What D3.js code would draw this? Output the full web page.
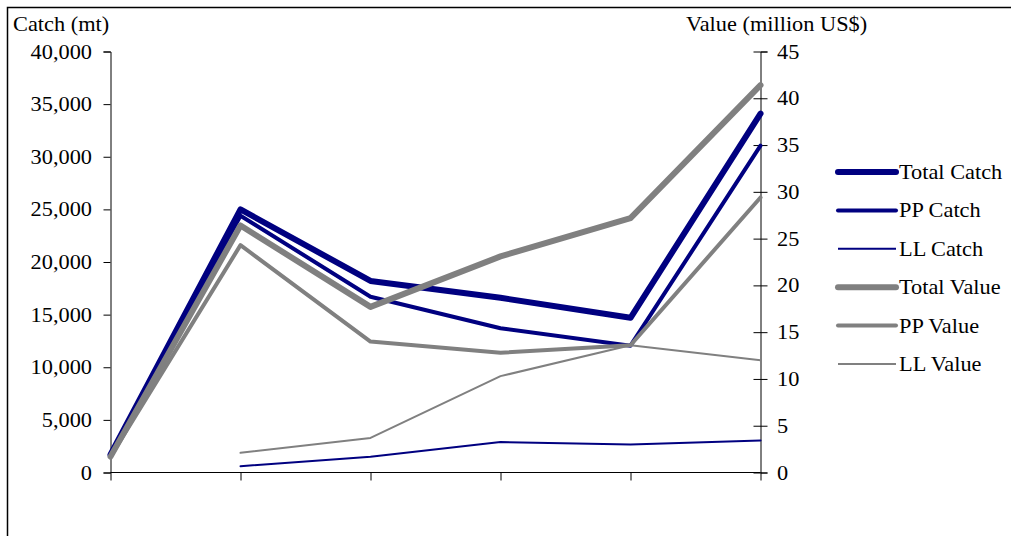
<!DOCTYPE html>
<html>
<head>
<meta charset="utf-8">
<script src="https://cdn.jsdelivr.net/npm/d3@7"></script>
<style>
  html, body { margin: 0; padding: 0; background: #fff; }
  svg { display: block; }
  text { font-family: "Liberation Serif", "Times New Roman", serif; fill: #000; }
</style>
</head>
<body>
<svg id="chart" width="1011" height="536"></svg>
<script>
// ---- data ----
const categories = [0, 1, 2, 3, 4, 5];
const totalCatch = [1700, 25000, 18200, 16600, 14700, 34100];
const ppCatch    = [1700, 24400, 16700, 13700, 12050, 31050];
const llCatch    = [null, 600, 1500, 2900, 2650, 3050];
const totalValue = [1.7, 26.4, 17.7, 23.1, 27.2, 41.4];
const ppValue    = [1.7, 24.3, 14.0, 12.8, 13.6, 29.4];
const llValue    = [null, 2.1, 3.7, 10.3, 13.6, 12.0];
const leftTicks  = [0, 5000, 10000, 15000, 20000, 25000, 30000, 35000, 40000];
const rightTicks = [0, 5, 10, 15, 20, 25, 30, 35, 40, 45];
const leftTitle  = "Catch (mt)";
const rightTitle = "Value (million US$)";

const seriesNames  = ["Total Catch", "PP Catch", "LL Catch", "Total Value", "PP Value", "LL Value"];
const seriesData   = [totalCatch, ppCatch, llCatch, totalValue, ppValue, llValue];
const seriesAxis   = ["L", "L", "L", "R", "R", "R"];
const seriesColor  = ["#000080", "#000080", "#000080", "#808080", "#808080", "#808080"];
const seriesWidth  = [6, 4, 2, 6, 4, 2];

// ---- layout ----
const FS = 20.5, SX = 1.09;
const svg = d3.select("#chart");
svg.append("rect").attr("x", 0).attr("y", 0).attr("width", 1011).attr("height", 536).attr("fill", "#fff");
svg.append("rect").attr("x", 7.5).attr("y", 7.5).attr("width", 1100).attr("height", 700)
  .attr("fill", "none").attr("stroke", "#000").attr("stroke-width", 1.5);

const x = d3.scalePoint().domain(categories).range([110.5, 760.5]);
const yL = d3.scaleLinear().domain([0, 40000]).range([472.5, 51.5]);
const yR = d3.scaleLinear().domain([0, 45]).range([472.5, 51.5]);

function stretchText(sel, xPos) {
  sel.attr("font-size", FS).attr("transform", `scale(${SX},1)`).attr("x", xPos / SX);
}

// left axis
const gL = svg.append("g").attr("transform", "translate(110.5,0)")
  .call(d3.axisLeft(yL).tickValues(leftTicks).tickSize(7).tickPadding(12).tickFormat(d3.format(",")));
gL.select(".domain").attr("stroke", "#000");
gL.selectAll(".tick line").attr("stroke", "#000");
gL.selectAll(".tick text").attr("font-family", null).call(stretchText, -18.5);

// right axis
const gR = svg.append("g").attr("transform", "translate(760.5,0)")
  .call(d3.axisRight(yR).tickValues(rightTicks).tickSize(7).tickPadding(12));
gR.select(".domain").attr("stroke", "#000");
gR.selectAll(".tick line").attr("stroke", "#000").attr("x1", -7).attr("x2", 7);
gR.selectAll(".tick text").attr("font-family", null).call(stretchText, 16.5);

// x axis
const gX = svg.append("g").attr("transform", "translate(0,472.5)")
  .call(d3.axisBottom(x).tickSize(8).tickFormat(() => ""));
gX.select(".domain").attr("stroke", "#000").attr("d", `M110.5,0H760.5`);
gX.selectAll(".tick line").attr("stroke", "#000");

// titles
svg.append("text").text(leftTitle).attr("y", 31).call(stretchText, 13);
svg.append("text").text(rightTitle).attr("y", 31).call(stretchText, 686);

// lines
seriesData.forEach((vals, i) => {
  const ys = seriesAxis[i] === "L" ? yL : yR;
  const line = d3.line()
    .defined(d => d != null)
    .x((d, j) => x(categories[j]))
    .y(d => ys(d));
  svg.append("path").datum(vals)
    .attr("d", line)
    .attr("fill", "none")
    .attr("stroke", seriesColor[i])
    .attr("stroke-width", seriesWidth[i])
    .attr("stroke-linejoin", "round")
    .attr("stroke-linecap", "round");
});

// legend
const legendY = d3.scalePoint().domain(seriesNames).range([172, 364]);
seriesNames.forEach((name, i) => {
  const ly = legendY(name);
  svg.append("line").attr("x1", 838).attr("x2", 896).attr("y1", ly).attr("y2", ly)
    .attr("stroke", seriesColor[i]).attr("stroke-width", seriesWidth[i])
    .attr("stroke-linecap", seriesWidth[i] > 2 ? "round" : "butt");
  svg.append("text").text(name).attr("y", ly + 7).call(stretchText, 899);
});
</script>
</body>
</html>
